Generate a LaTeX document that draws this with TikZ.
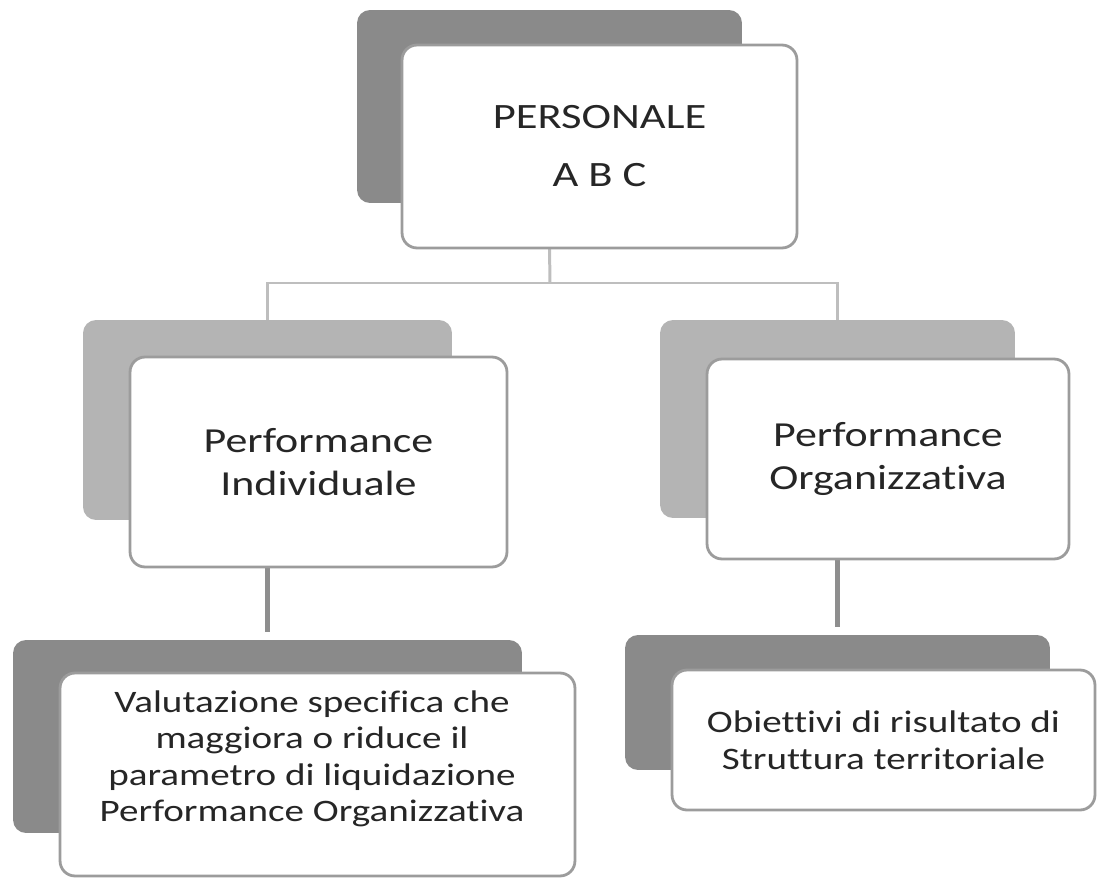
\documentclass[tikz,border=0pt]{standalone}
\usepackage{fontspec}
\setmainfont{Carlito}[FakeStretch=1.25, Ligatures={NoCommon}]
\usepackage{tikz}
\usetikzlibrary{positioning}

\definecolor{darkback}{HTML}{8A8A8A}
\definecolor{lightback}{HTML}{B4B4B4}
\definecolor{boxline}{HTML}{9C9C9C}
\definecolor{linkgray}{HTML}{BEBEBE}
\definecolor{linkdark}{HTML}{8E8E8E}

\begin{document}
\begin{tikzpicture}[x=0.02cm, y=-0.02cm,
        back/.style={rectangle, rounded corners=0.26cm, inner sep=0pt},
        front/.style={rectangle, rounded corners=0.3cm, draw=boxline, line width=1.6pt, fill=white, inner sep=0pt, align=center, text=black!85},
        boxtext/.style={align=center, text=black!85, inner sep=0pt},
        uplink/.style={draw=linkgray, line width=1.7pt},
        downlink/.style={draw=linkdark, line width=3pt}]
    \useasboundingbox (0, 0) rectangle (1097, 881);

    % shadows behind the boxes
    \node[back, fill=darkback, minimum width=7.7cm, minimum height=3.86cm] (topback) at (549.5, 106.5) {};
    \node[back, fill=lightback, minimum width=7.38cm, minimum height=4cm] (indback) at (267.5, 420) {};
    \node[back, fill=lightback, minimum width=7.1cm, minimum height=3.96cm] (orgback) at (837.5, 419) {};
    \node[back, fill=darkback, minimum width=10.18cm, minimum height=3.86cm] (valback) at (267.5, 736.5) {};
    \node[back, fill=darkback, minimum width=8.5cm, minimum height=2.7cm] (obiback) at (837.5, 702.5) {};

    % connectors
    \coordinate (bus) at (550, 283);
    \draw[uplink] (topback.center |- 0, 248) -- (bus);
    \draw[uplink] (bus) -| (indback.north);
    \draw[uplink] (bus) -| (orgback.north);
    \draw[downlink, shorten >=0.16cm] (indback.center |- 0, 567) -- (valback.north);
    \draw[downlink, shorten >=0.16cm] (orgback.center |- 0, 558) -- (obiback.north);

    % boxes
    \node[front, minimum width=7.9cm, minimum height=4.06cm, font=\fontsize{20.3}{33}\selectfont] (topfront) at (599.5, 146.5) {PERSONALE\\A B C};
    \node[front, minimum width=7.54cm, minimum height=4.2cm, font=\fontsize{20}{24.5}\selectfont] (indfront) at (318.5, 462) {Performance\\Individuale};
    \node[front, minimum width=7.24cm, minimum height=4cm, font=\fontsize{20}{24.5}\selectfont] (orgfront) at (888, 459) {Performance\\Organizzativa};
    \node[front, minimum width=10.3cm, minimum height=4.06cm] (valfront) at (317.5, 774.5) {};
    \node[boxtext, font=\fontsize{17.8}{20.8}\selectfont] (valtext) at (312, 759) {Valutazione specifica che\\maggiora o riduce il\\parametro di liquidazione\\Performance Organizzativa};
    \node[front, minimum width=8.46cm, minimum height=2.8cm, font=\fontsize{17.8}{21}\selectfont] (obifront) at (883.5, 740) {Obiettivi di risultato di\\Struttura territoriale};
\end{tikzpicture}
\end{document}
